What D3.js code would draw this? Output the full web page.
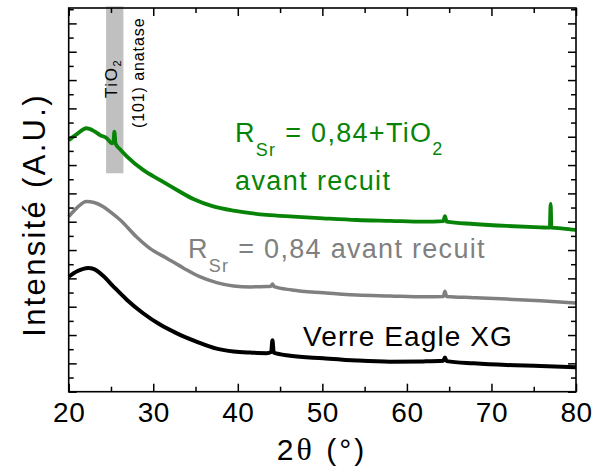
<!DOCTYPE html>
<html><head><meta charset="utf-8">
<script src="https://cdn.jsdelivr.net/npm/d3@7"></script>
<style>
html,body{margin:0;padding:0;background:#fff;}
svg{display:block;font-family:"Liberation Sans",Arial,sans-serif;}
</style></head>
<body><svg id="c" width="593" height="473"></svg>
<script>
// ---- data ----
const xDomain = [20, 80];
const xTickLabels = [20, 30, 40, 50, 60, 70, 80];
const xMinorTicks = [25, 35, 45, 55, 65, 75];
const yMajorTicks = d3.range(0, 14, 1);
const yMinorTicks = d3.range(0.5, 14, 1);

const verreX = [20, 21, 22.3, 23, 24.1, 25.3, 26.9, 28.8, 30.8, 32.8, 35.1, 37.5, 39.5, 41.5, 43.4, 43.95, 44.1, 44.25, 46.2, 50.1, 54.1, 58, 62, 64.3, 64.5, 64.7, 67.9, 71.8, 75.8, 80];
const verreY = [4.06, 4.25, 4.37, 4.33, 4.08, 3.71, 3.24, 2.77, 2.37, 2.06, 1.77, 1.52, 1.42, 1.38, 1.36, 1.40, 1.82, 1.38, 1.27, 1.18, 1.10, 1.06, 1.07, 1.09, 1.21, 1.08, 1.00, 0.94, 0.91, 0.86];

const rsrX = [20, 21, 22.1, 23, 24.1, 25, 26.1, 28, 29.6, 31.6, 33.6, 35.5, 37.5, 39.5, 41.5, 43.4, 43.9, 44.1, 44.3, 46.4, 50.1, 54.1, 58, 62, 64.3, 64.5, 64.7, 67.9, 71.8, 75.8, 80];
const rsrY = [6.18, 6.50, 6.71, 6.68, 6.53, 6.33, 6.06, 5.47, 5.06, 4.71, 4.36, 4.06, 3.85, 3.73, 3.70, 3.71, 3.72, 3.80, 3.71, 3.59, 3.49, 3.41, 3.38, 3.35, 3.36, 3.55, 3.36, 3.32, 3.27, 3.21, 3.13];

const tio2X = [20, 21, 22.1, 23, 23.7, 24.5, 25.1, 25.3, 25.4, 25.55, 26.1, 26.9, 28.8, 30.8, 32.8, 34.8, 37, 39.5, 41.5, 43.4, 46.6, 50.1, 54.1, 58, 62, 64.3, 64.5, 64.7, 67.9, 71.8, 75.8, 76.9, 77.0, 77.1, 78.5, 80];
const tio2Y = [8.88, 9.10, 9.30, 9.20, 9.06, 8.95, 8.77, 8.85, 9.18, 8.75, 8.55, 8.30, 7.83, 7.47, 7.12, 6.79, 6.55, 6.39, 6.30, 6.24, 6.18, 6.12, 6.06, 6.03, 6.00, 6.02, 6.20, 6.00, 5.92, 5.85, 5.80, 5.79, 6.63, 5.79, 5.76, 5.71];

const anataseBand = [24.42, 26.47];
const anataseBandY = [7.71, 13.6];

// ---- layout ----
const L = 68.7, R = 576, T = 8, B = 391.7;
const svg = d3.select("#c");
const x = d3.scaleLinear().domain(xDomain).range([L, R]);
const y = d3.scaleLinear().domain([0, (B - T) / 28.33]).range([B, T]);

// band
svg.append("rect")
  .attr("x", x(anataseBand[0])).attr("width", x(anataseBand[1]) - x(anataseBand[0]))
  .attr("y", y(anataseBandY[1])).attr("height", y(anataseBandY[0]) - y(anataseBandY[1]))
  .attr("fill", "#c0c0c0");

// curves
const line = d3.line().x(d => x(d[0])).y(d => y(d[1])).curve(d3.curveMonotoneX);
const series = [
  {xs: verreX, ys: verreY, color: "#000000", w: 4},
  {xs: rsrX, ys: rsrY, color: "#808080", w: 3.5},
  {xs: tio2X, ys: tio2Y, color: "#078407", w: 3.8}
];
series.forEach(s => {
  svg.append("path").datum(s.xs.map((v, i) => [v, s.ys[i]]))
    .attr("d", line).attr("fill", "none").attr("stroke", s.color)
    .attr("stroke-width", s.w).attr("stroke-linejoin", "round");
});

// axes
const gB = svg.append("g").attr("transform", `translate(0,${B})`)
  .call(d3.axisBottom(x).tickValues(xTickLabels).tickSize(-8).tickPadding(10).tickFormat(d3.format("d")));
svg.append("g").attr("transform", `translate(0,${B})`)
  .call(d3.axisBottom(x).tickValues(xMinorTicks).tickSize(-5).tickFormat(""));
svg.append("g").attr("transform", `translate(0,${T})`)
  .call(d3.axisTop(x).tickValues(xTickLabels).tickSize(-8).tickFormat(""));
svg.append("g").attr("transform", `translate(0,${T})`)
  .call(d3.axisTop(x).tickValues(xMinorTicks).tickSize(-5).tickFormat(""));
svg.append("g").attr("transform", `translate(${L},0)`)
  .call(d3.axisLeft(y).tickValues(yMajorTicks).tickSize(-8).tickFormat(""));
svg.append("g").attr("transform", `translate(${L},0)`)
  .call(d3.axisLeft(y).tickValues(yMinorTicks).tickSize(-5).tickFormat(""));
svg.append("g").attr("transform", `translate(${R},0)`)
  .call(d3.axisRight(y).tickValues(yMajorTicks).tickSize(-8).tickFormat(""));
svg.append("g").attr("transform", `translate(${R},0)`)
  .call(d3.axisRight(y).tickValues(yMinorTicks).tickSize(-5).tickFormat(""));
svg.selectAll(".domain").remove();
svg.selectAll(".tick line").attr("stroke", "#000").attr("stroke-width", 1.5);
gB.attr("font-size", 28).attr("font-family", "Liberation Sans, Arial, sans-serif");
gB.selectAll("text").attr("fill", "#000").attr("letter-spacing", 0.5);

svg.append("rect").attr("x", L).attr("y", T).attr("width", R - L).attr("height", B - T)
  .attr("fill", "none").attr("stroke", "#000").attr("stroke-width", 1.6);

// axis titles
const xt = svg.append("text").attr("x", 322).attr("y", 460).attr("text-anchor", "middle")
  .attr("font-size", 30).attr("letter-spacing", 3).attr("fill", "#000");
xt.append("tspan").text("2");
xt.append("tspan").attr("font-family", "Liberation Serif, Times New Roman, serif").attr("font-size", 32).text("\u03b8");
xt.append("tspan").text(" (\u00b0)");

svg.append("text").attr("transform", "translate(45,215) rotate(-90)").attr("text-anchor", "middle")
  .attr("font-size", 31).attr("letter-spacing", 2.3).attr("fill", "#000").text("Intensit\u00e9 (A.U.)");

// band labels
const tl = svg.append("text").attr("transform", "translate(117,98) rotate(-90)")
  .attr("font-size", 17).attr("letter-spacing", 1.6).attr("fill", "#000");
tl.append("tspan").text("TiO");
tl.append("tspan").attr("font-size", 11).attr("dy", 4).text("2");
svg.append("text").attr("transform", "translate(144,128) rotate(-90)")
  .attr("font-size", 16).attr("letter-spacing", 0.9).attr("fill", "#000").text("(101) anatase");

// series labels
function rsrLabel(x0, yb, color, tail, sub2) {
  const t = svg.append("text").attr("x", x0).attr("y", yb).attr("font-size", 27)
    .attr("letter-spacing", 1.3).attr("fill", color);
  t.append("tspan").text("R");
  t.append("tspan").attr("font-size", 18).attr("dy", 14).text("Sr");
  t.append("tspan").attr("dy", -14).text(tail);
  if (sub2) t.append("tspan").attr("font-size", 18).attr("dy", 13).text("2");
  return t;
}
rsrLabel(235, 141.7, "#078407", " = 0,84+TiO", true);
svg.append("text").attr("x", 235).attr("y", 190).attr("font-size", 27).attr("letter-spacing", 1.4)
  .attr("fill", "#078407").text("avant recuit");
rsrLabel(188, 258.3, "#808080", " = 0,84 avant recuit", false);
svg.append("text").attr("x", 303).attr("y", 346).attr("font-size", 28).attr("letter-spacing", 1.1)
  .attr("fill", "#000").text("Verre Eagle XG");
</script></body></html>
